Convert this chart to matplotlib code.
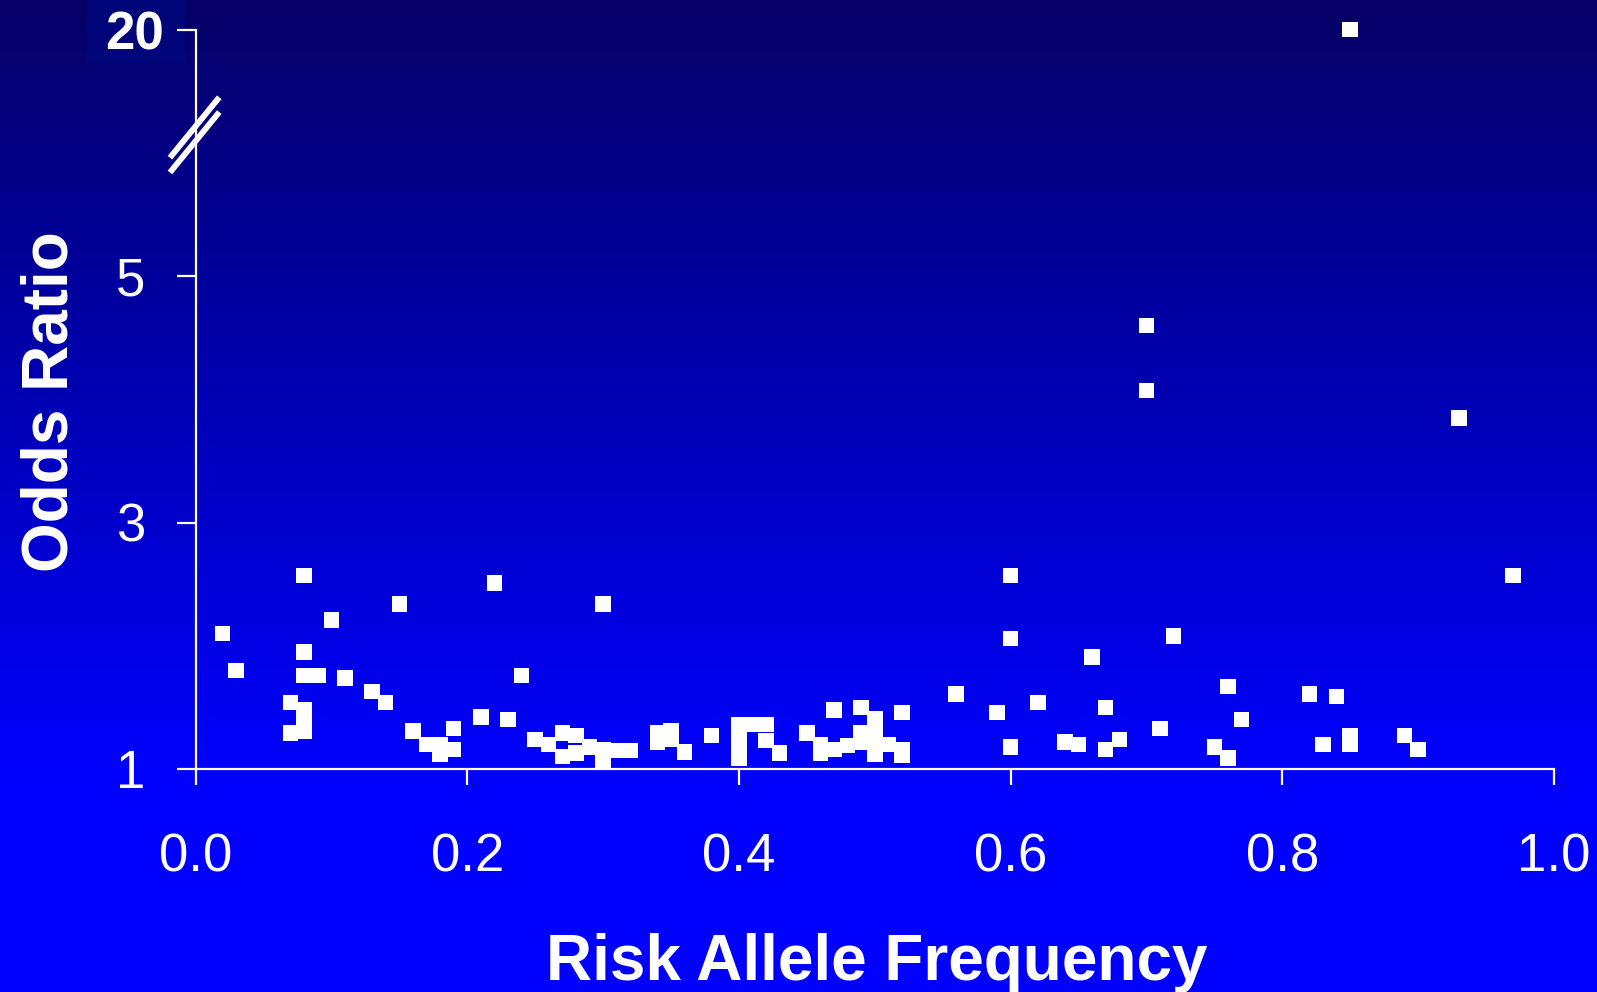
import numpy as np
import matplotlib
matplotlib.use("Agg")
import matplotlib.pyplot as plt
from matplotlib.patches import Rectangle

plt.rcParams['font.family'] = ['Liberation Sans', 'DejaVu Sans']

# risk allele frequency / odds ratio
freq = [0.02, 0.03, 0.07, 0.07, 0.08, 0.08, 0.08, 0.08, 0.08, 0.08,
        0.09, 0.10, 0.11, 0.13, 0.14, 0.15, 0.16, 0.17, 0.18, 0.18,
        0.19, 0.19, 0.21, 0.22, 0.23, 0.24, 0.25, 0.26, 0.27, 0.27,
        0.28, 0.28, 0.29, 0.30, 0.30, 0.30, 0.31, 0.32, 0.34, 0.34,
        0.35, 0.35, 0.36, 0.38, 0.40, 0.40, 0.40, 0.40, 0.41, 0.42,
        0.42, 0.43, 0.45, 0.46, 0.46, 0.47, 0.47, 0.48, 0.49, 0.49,
        0.49, 0.50, 0.50, 0.50, 0.50, 0.51, 0.52, 0.52, 0.52, 0.56,
        0.59, 0.60, 0.60, 0.60, 0.62, 0.64, 0.65, 0.66, 0.67, 0.67,
        0.68, 0.70, 0.70, 0.71, 0.72, 0.75, 0.76, 0.76, 0.77, 0.82,
        0.83, 0.84, 0.85, 0.85, 0.85, 0.89, 0.90, 0.93, 0.97]
odds = [2.10, 1.80, 1.54, 1.29, 2.57, 1.95, 1.76, 1.48, 1.40, 1.31,
        1.76, 2.21, 1.74, 1.63, 1.54, 2.34, 1.31, 1.20, 1.20, 1.12,
        1.33, 1.16, 1.42, 2.51, 1.40, 1.76, 1.24, 1.20, 1.29, 1.10,
        1.27, 1.13, 1.18, 2.34, 1.16, 1.07, 1.15, 1.15, 1.29, 1.22,
        1.31, 1.24, 1.14, 1.27, 1.36, 1.26, 1.15, 1.09, 1.36, 1.36,
        1.23, 1.13, 1.29, 1.20, 1.13, 1.48, 1.16, 1.19, 1.50, 1.29,
        1.22, 1.41, 1.33, 1.24, 1.12, 1.20, 1.46, 1.16, 1.11, 1.61,
        1.46, 2.57, 2.06, 1.18, 1.54, 1.22, 1.20, 1.91, 1.50, 1.16,
        1.24, 4.60, 4.07, 1.33, 2.08, 1.18, 1.67, 1.09, 1.40, 1.61,
        1.20, 1.59, 20.0, 1.27, 1.20, 1.27, 1.16, 3.85, 2.57]

xticks = [0.0, 0.2, 0.4, 0.6, 0.8, 1.0]
xticklabels = ['0.0', '0.2', '0.4', '0.6', '0.8', '1.0']
yticks = [1, 3, 5, 7]
yticklabels = ['1', '3', '5', '20']

# y axis is broken above ~6: anything bigger sits on the top tick
break_at = 6.5
top_pos = 7
plot_odds = np.where(np.array(odds) > break_at, top_pos, odds)

W, H = 1597, 992
fig = plt.figure(figsize=(W / 100, H / 100), dpi=100)

# background gradient (dark navy at top -> bright blue near bottom)
bg = fig.add_axes([0, 0, 1, 1])
rows = np.arange(H)
b = np.clip(0.40 + rows / 780 * 0.60, 0, 1.0)
r = np.clip(0.03 - rows / 300 * 0.03, 0, 1)
grad = np.zeros((H, 1, 3))
grad[:, 0, 0] = r
grad[:, 0, 2] = b
bg.imshow(grad, aspect='auto', extent=[0, W, H, 0])
bg.add_patch(Rectangle((87, 0), 98, 63, color=(0.0, 0.02, 0.48), lw=0))
bg.set_xlim(0, W)
bg.set_ylim(H, 0)
bg.axis('off')

ax = fig.add_axes([195.5 / W, (H - 769) / H, (1554 - 195.5) / W, (769 - 29.5) / H])
ax.patch.set_alpha(0)

ax.scatter(freq, plot_odds, marker='s', s=125, c='white', edgecolors='none',
           clip_on=False, zorder=3)

ax.set_xlim(0, 1)
ax.set_ylim(1, 7)
for s in ['top', 'right']:
    ax.spines[s].set_visible(False)
for s in ['left', 'bottom']:
    ax.spines[s].set_color('white')
    ax.spines[s].set_linewidth(1.6)

ax.set_xticks(xticks)
ax.set_xticklabels(xticklabels)
ax.set_yticks(yticks)
ax.set_yticklabels(yticklabels)
ax.tick_params(axis='x', colors='white', length=11.5, width=1.6, pad=34, labelsize=38)
ax.tick_params(axis='y', colors='white', length=14, width=1.6, pad=22, labelsize=38)

# the "20" tick is shorter and its label is bold
t20 = ax.yaxis.get_major_ticks()[3]
t20.tick1line.set_markersize(7)
t20.set_pad(9)
t20.label1.set_fontweight('bold')

# axis break marks
bx = [-0.0188, 0.0175]
ax.plot(bx, [5.96, 6.45], color='white', lw=4.2, solid_capstyle='butt', clip_on=False, zorder=4)
ax.plot(bx, [5.84, 6.33], color='white', lw=4.2, solid_capstyle='butt', clip_on=False, zorder=4)

fig.text(877 / W, (H - 980) / H, 'Risk Allele Frequency', color='white', fontsize=46,
         fontweight='bold', ha='center', va='baseline')
fig.text(67 / W, (H - 401.7) / H, 'Odds Ratio', color='white', fontsize=46,
         fontweight='bold', rotation=90, rotation_mode='anchor', ha='center', va='baseline')

fig.savefig('out.png', dpi=100)
